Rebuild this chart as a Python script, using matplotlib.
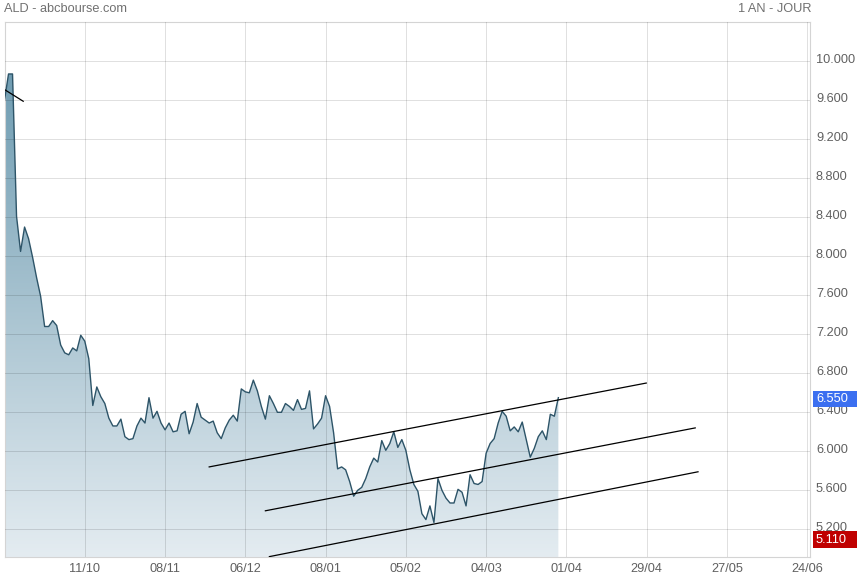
import numpy as np
import matplotlib.pyplot as plt
import matplotlib.transforms as mtransforms
from matplotlib.patches import Rectangle
from matplotlib.colors import LinearSegmentedColormap

# ─────────────────────────────────────────
# DATA  (daily closes, one per trading day)
# ─────────────────────────────────────────
prices = [
    9.60, 9.87, 9.87, 8.41, 8.05, 8.30, 8.18, 7.99, 7.78, 7.59,
    7.28, 7.28, 7.34, 7.29, 7.09, 7.01, 6.99, 7.06, 7.03, 7.19,
    7.13, 6.95, 6.47, 6.66, 6.56, 6.49, 6.34, 6.26, 6.26, 6.33,
    6.15, 6.12, 6.13, 6.26, 6.34, 6.29, 6.55, 6.34, 6.41, 6.29,
    6.22, 6.29, 6.20, 6.21, 6.38, 6.41, 6.18, 6.30, 6.49, 6.35,
    6.32, 6.29, 6.31, 6.19, 6.13, 6.24, 6.32, 6.37, 6.31, 6.64,
    6.61, 6.60, 6.73, 6.62, 6.46, 6.33, 6.57, 6.49, 6.40, 6.40,
    6.49, 6.46, 6.42, 6.53, 6.43, 6.44, 6.62, 6.23, 6.28, 6.34,
    6.57, 6.46, 6.19, 5.82, 5.84, 5.81, 5.69, 5.54, 5.60, 5.63,
    5.72, 5.84, 5.93, 5.89, 6.11, 6.01, 6.08, 6.20, 6.04, 6.12,
    6.01, 5.81, 5.66, 5.59, 5.36, 5.30, 5.44, 5.27, 5.72, 5.60,
    5.52, 5.47, 5.47, 5.61, 5.58, 5.44, 5.76, 5.67, 5.66, 5.69,
    5.98, 6.08, 6.13, 6.29, 6.41, 6.36, 6.21, 6.25, 6.20, 6.30,
    6.12, 5.94, 6.03, 6.15, 6.21, 6.12, 6.38, 6.36, 6.55,
]

xtick_pos    = [20, 40, 60, 80, 100, 120, 140, 160, 180, 200]
xtick_labels = ["11/10", "08/11", "06/12", "08/01", "05/02",
                "04/03", "01/04", "29/04", "27/05", "24/06"]
ytick_vals   = [5.2, 5.6, 6.0, 6.4, 6.8, 7.2, 7.6, 8.0, 8.4, 8.8, 9.2, 9.6, 10.0]

# trend lines: (x0, y0, x1, y1) in (trading day, price)
trend_lines = [
    (0.0, 9.71, 4.66, 9.59),
    (51.0, 5.84, 159.9, 6.70),
    (65.0, 5.39, 172.1, 6.24),
    (66.0, 4.92, 172.8, 5.79),
]

last_price = 6.55
low_mark   = 5.11

# ─────────────────────────────────────────
# FIGURE
# ─────────────────────────────────────────
plt.rcParams["font.family"] = ["Liberation Sans", "DejaVu Sans"]
W, H = 860, 580
fig = plt.figure(figsize=(W / 100, H / 100), dpi=100)
L, R, T, B = 4.5, 810, 21.5, 557.3
ax = fig.add_axes([L / W, 1 - B / H, (R - L) / W, (B - T) / H])

XMIN, XMAX = 0, 200.7
YMIN, YMAX = 4.913, 10.408
ax.set_xlim(XMIN, XMAX)
ax.set_ylim(YMIN, YMAX)

x = np.arange(len(prices))
y = np.array(prices)

# gradient fill under the curve
cmap = LinearSegmentedColormap.from_list("abc", ["#e4ecf1", "#6394ab"])
grad = np.linspace(0, 1, 256).reshape(-1, 1)
img = ax.imshow(grad, cmap=cmap, aspect="auto", origin="lower",
                extent=[XMIN, XMAX, YMIN, YMAX], zorder=1)
poly = ax.fill_between(x, y, YMIN, color="none", lw=0)
img.set_clip_path(poly.get_paths()[0], transform=ax.transData)

ax.plot(x, y, color="#2d5468", lw=1.0, zorder=4)

for x0, y0, x1, y1 in trend_lines:
    ax.plot([x0, x1], [y0, y1], color="black", lw=0.9, zorder=5)

# grid drawn over the fill
for v in ytick_vals:
    ax.axhline(v, color="black", alpha=0.12, lw=0.72, zorder=3)
for p in xtick_pos:
    ax.axvline(p, color="black", alpha=0.12, lw=0.72, zorder=3)

ax.set_xticks([])
ax.set_yticks([])
for s in ax.spines.values():
    s.set_color("#d4d4d4")
    s.set_linewidth(0.8)

# ─────────────────────────────────────────
# LABELS
# ─────────────────────────────────────────
txt_col = "#606060"
fx_data = mtransforms.blended_transform_factory(fig.transFigure, ax.transData)
data_fy = mtransforms.blended_transform_factory(ax.transData, fig.transFigure)

for v in ytick_vals:
    ax.text(816 / W, v + 0.012, f"{v:.3f}", transform=fx_data, ha="left",
            va="center", fontsize=9.2, color=txt_col)

for p, lab in zip(xtick_pos, xtick_labels):
    ax.text(p, 1 - 569.5 / H, lab, transform=data_fy, ha="center",
            va="center", fontsize=9.2, color=txt_col, clip_on=False)

fig.text(4 / W, 1 - 8.5 / H, "ALD - abcbourse.com", ha="left", va="center",
         fontsize=9.2, color="#707070")
fig.text(811 / W, 1 - 8.5 / H, "1 AN - JOUR", ha="right", va="center",
         fontsize=9.2, color="#707070")

# price boxes on the right
box_h = 16.5 / 97.5
for val, col in [(last_price, "#3b6ff0"), (low_mark, "#c00000")]:
    yc = val - 0.015
    fig.add_artist(Rectangle((813 / W, yc - box_h / 2), 44 / W, box_h,
                             transform=fx_data, facecolor=col,
                             edgecolor="none", zorder=10, clip_on=False))
    fig.text(816 / W, yc, f"{val:.3f}", transform=fx_data, ha="left",
             va="center", fontsize=9.2, color="white", zorder=11)

fig.savefig("out.png", dpi=100)
